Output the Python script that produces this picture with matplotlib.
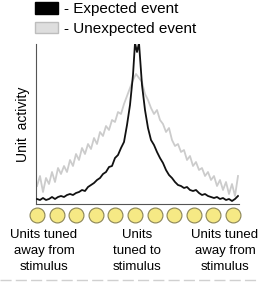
import numpy as np
import matplotlib
matplotlib.use('Agg')
import matplotlib.pyplot as plt
from matplotlib.patches import Patch

plt.rcParams['font.family'] = ['Liberation Sans', 'DejaVu Sans']

# position across the population (arbitrary units), activity (arbitrary units)
pos_exp = [1, 4, 7, 10, 13, 16, 19, 22, 25, 28, 31, 34, 37, 40, 43, 46, 49, 52,
           55, 58, 61, 64, 67, 70, 73, 76, 79, 82, 85, 88, 91, 94, 97, 99, 101,
           103, 106, 109, 112, 115, 118, 121, 124, 127, 130, 133, 136, 139, 142,
           145, 148, 151, 154, 157, 160, 163, 166, 169, 172, 175, 178, 181, 184,
           187, 190, 193, 196, 199, 202]
act_exp = [5, 4, 6, 4, 5, 7, 5, 7, 8, 7, 9, 10, 9, 11, 12, 14, 13, 17, 19, 21,
           24, 26, 30, 32, 37, 38, 46, 49, 56, 62, 79, 99, 129, 161, 152, 161,
           119, 94, 76, 64, 59, 52, 46, 41, 34, 29, 26, 22, 19, 18, 16, 17, 14,
           13, 14, 11, 9, 10, 8, 7, 6, 7, 5, 6, 4, 5, 3, 5, 8]

pos_unexp = [1, 4, 7, 10, 13, 16, 19, 22, 25, 28, 31, 34, 37, 40, 43, 46, 49,
             52, 55, 58, 61, 64, 67, 70, 73, 76, 79, 82, 85, 88, 91, 94, 97,
             100, 103, 106, 109, 112, 115, 118, 121, 124, 127, 130, 133, 136,
             139, 142, 145, 148, 151, 154, 157, 160, 163, 166, 169, 172, 175,
             178, 181, 184, 187, 190, 193, 196, 199, 202]
act_unexp = [18, 28, 12, 26, 20, 32, 22, 36, 30, 38, 32, 44, 38, 50, 44, 56,
             50, 60, 55, 66, 60, 72, 68, 78, 74, 84, 82, 92, 90, 100, 108, 116,
             124, 130, 126, 122, 110, 104, 96, 90, 94, 84, 80, 72, 76, 64, 58,
             60, 52, 54, 44, 48, 38, 42, 34, 36, 28, 32, 24, 28, 18, 24, 14, 22,
             10, 20, 8, 28]

unit_pos = [1, 20.6, 40.2, 59.8, 79.4, 99, 118.6, 138.2, 157.8, 177.4, 197]

group_labels = ['Units tuned\naway from\nstimulus', 'Units\ntuned to\nstimulus',
                'Units tuned\naway from\nstimulus']
group_x = [44, 137, 225]  # pixel centres

W, H = 259, 282
fig = plt.figure(figsize=(W / 100, H / 100), dpi=100)

ax = fig.add_axes([36 / W, 1 - 204 / H, 203 / W, 160 / H])
ax.plot(pos_unexp, act_unexp, color='#cccccc', lw=1.3, zorder=2)
ax.plot(pos_exp, act_exp, color='#111111', lw=1.3, zorder=3)
ax.set_xlim(0, 203)
ax.set_ylim(0, 160)
for s in ['top', 'right']:
    ax.spines[s].set_visible(False)
ax.spines['left'].set_color('#555555')
ax.spines['bottom'].set_color('#555555')
ax.set_xticks([])
ax.set_yticks([])
ax.set_ylabel('Unit  activity', fontsize=10, labelpad=4)

# row of units under the axis
ax2 = fig.add_axes([36 / W, 1 - 224 / H, 203 / W, 18 / H])
ax2.scatter(unit_pos, [0] * len(unit_pos), s=115, facecolor='#f6e985',
            edgecolor='#8a8456', linewidth=0.8, clip_on=False)
ax2.set_xlim(0, 203)
ax2.set_ylim(-1, 1)
ax2.axis('off')

for gx, lab in zip(group_x, group_labels):
    fig.text(gx / W, 1 - 229 / H, lab, ha='center', va='top', fontsize=9.5,
             linespacing=1.45)

handles = [Patch(facecolor='black', edgecolor='black'),
           Patch(facecolor='#dedede', edgecolor='#bdbdbd')]
fig.legend(handles, ['- Expected event', '- Unexpected event'],
           loc='upper left', bbox_to_anchor=(35 / W, 1 - 2 / H),
           frameon=False, fontsize=11, handlelength=1.5, handleheight=0.8,
           handletextpad=0.4, labelspacing=0.35, borderpad=0, borderaxespad=0)

# dashed separator at the bottom
fig.add_artist(plt.Line2D([0, 1], [1 - 280 / H, 1 - 280 / H],
                          transform=fig.transFigure, color='#d0d0d0',
                          lw=1, dashes=(8, 3)))

fig.savefig('out.png', dpi=100)
plt.close()
